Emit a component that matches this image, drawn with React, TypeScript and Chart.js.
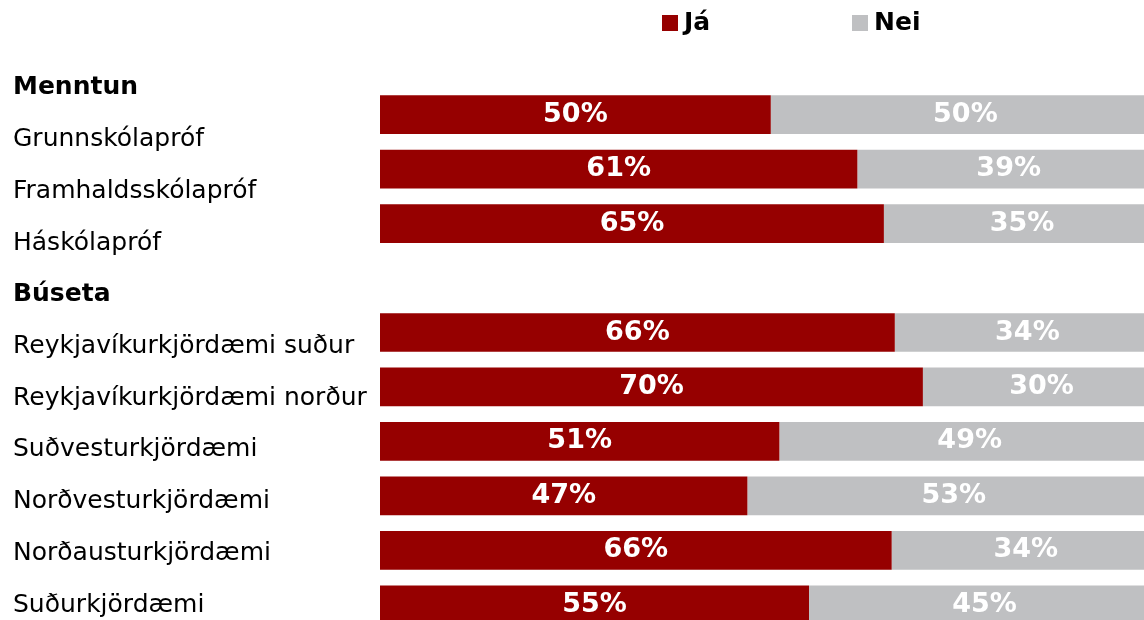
import React, { useEffect, useRef } from 'react';
import { Chart, registerables } from 'chart.js';

Chart.register(...registerables);

// ---- Data ----
const rowLabels = [
  'Menntun',
  'Grunnskólapróf',
  'Framhaldsskólapróf',
  'Háskólapróf',
  'Búseta',
  'Reykjavíkurkjördæmi suður',
  'Reykjavíkurkjördæmi norður',
  'Suðvesturkjördæmi',
  'Norðvesturkjördæmi',
  'Norðausturkjördæmi',
  'Suðurkjördæmi',
];
const headerRows = ['Menntun', 'Búseta'];
const seriesNames = ['Já', 'Nei'];
const jaValues = [null, 50.1, 61.2, 64.6, null, 66.0, 69.6, 51.2, 47.1, 65.6, 55.0];
const neiValues = [null, 49.9, 38.8, 35.4, null, 34.0, 30.4, 48.8, 52.9, 34.4, 45.0];

const FONT = '"DejaVu Sans", Verdana, sans-serif';
const RED = '#960000';
const GREY = '#BFC0C2';

const legendPlugin = {
  id: 'topLegend',
  afterDraw(chart: any, _args: any, opts: any) {
    const ctx = chart.ctx;
    ctx.save();
    ctx.font = `bold ${opts.fontSize}px ${FONT}`;
    ctx.textBaseline = 'middle';
    ctx.textAlign = 'left';
    chart.data.datasets.forEach((ds: any, i: number) => {
      const x = opts.itemX[i];
      ctx.fillStyle = ds.backgroundColor;
      ctx.fillRect(x, opts.y - opts.box / 2, opts.box, opts.box);
      ctx.fillStyle = '#000';
      ctx.fillText(ds.label, x + opts.box + opts.gap, opts.y);
    });
    ctx.restore();
  },
};

const valueLabelPlugin = {
  id: 'valueLabels',
  afterDatasetsDraw(chart: any, _args: any, opts: any) {
    const ctx = chart.ctx;
    ctx.save();
    ctx.font = `bold ${opts.fontSize}px ${FONT}`;
    ctx.fillStyle = '#FFFFFF';
    ctx.textAlign = 'center';
    ctx.textBaseline = 'middle';
    chart.data.datasets.forEach((ds: any, di: number) => {
      const meta = chart.getDatasetMeta(di);
      meta.data.forEach((el: any, i: number) => {
        const v = ds.data[i];
        if (v == null) return;
        const p = el.getCenterPoint();
        ctx.fillText(Math.round(v) + '%', p.x, p.y);
      });
    });
    ctx.restore();
  },
};

export default function App() {
  const ref = useRef<HTMLCanvasElement | null>(null);

  useEffect(() => {
    if (!ref.current) return;
    const chart = new Chart(ref.current, {
      type: 'bar',
      data: {
        labels: rowLabels,
        datasets: [
          {
            label: seriesNames[0],
            data: jaValues,
            backgroundColor: RED,
            yAxisID: 'y',
            xAxisID: 'x',
            barPercentage: 0.71,
            categoryPercentage: 1,
          },
          {
            label: seriesNames[1],
            data: neiValues,
            backgroundColor: GREY,
            yAxisID: 'y',
            xAxisID: 'x',
            barPercentage: 0.71,
            categoryPercentage: 1,
          },
        ],
      },
      options: {
        indexAxis: 'y',
        animation: false,
        responsive: true,
        maintainAspectRatio: false,
        layout: { padding: { left: 13, top: 33, right: 0, bottom: 0 } },
        scales: {
          x: { type: 'linear', stacked: true, min: 0, max: 100, display: false },
          y: { type: 'category', stacked: true, display: false, offset: true },
          rowLabelAxis: {
            type: 'linear',
            axis: 'y',
            position: 'left',
            reverse: true,
            offset: false,
            min: -1.06,
            max: 10.52,
            grid: { display: false, drawTicks: false, offset: false },
            border: { display: false },
            ticks: {
              autoSkip: false,
              crossAlign: 'far',
              padding: 0,
              color: '#000',
              font: (c: any) => ({
                family: FONT,
                size: 25,
                weight: c.tick && headerRows.includes(rowLabels[c.tick.value]) ? 'bold' : 'normal',
              }),
              callback: (v: any) => rowLabels[v] ?? '',
            },
            afterBuildTicks: (s: any) => {
              s.ticks = rowLabels.map((_, i) => ({ value: i }));
            },
            afterFit: (s: any) => {
              s.width = 367;
              s.paddingTop = 0;
              s.paddingBottom = 0;
            },
          } as any,
        },
        plugins: {
          legend: { display: false },
          tooltip: { enabled: false },
          topLegend: { itemX: [662, 852], y: 23, box: 16, gap: 6, fontSize: 25 },
          valueLabels: { fontSize: 27 },
        } as any,
      },
      plugins: [legendPlugin, valueLabelPlugin],
    } as any);
    return () => chart.destroy();
  }, []);

  return (
    <div
      style={{
        position: 'fixed',
        left: 0,
        top: 0,
        width: 1144,
        height: 620,
        overflow: 'hidden',
        background: '#fff',
      }}
    >
      <div style={{ position: 'relative', width: 1160, height: 632 }}>
        <canvas ref={ref} />
      </div>
    </div>
  );
}
